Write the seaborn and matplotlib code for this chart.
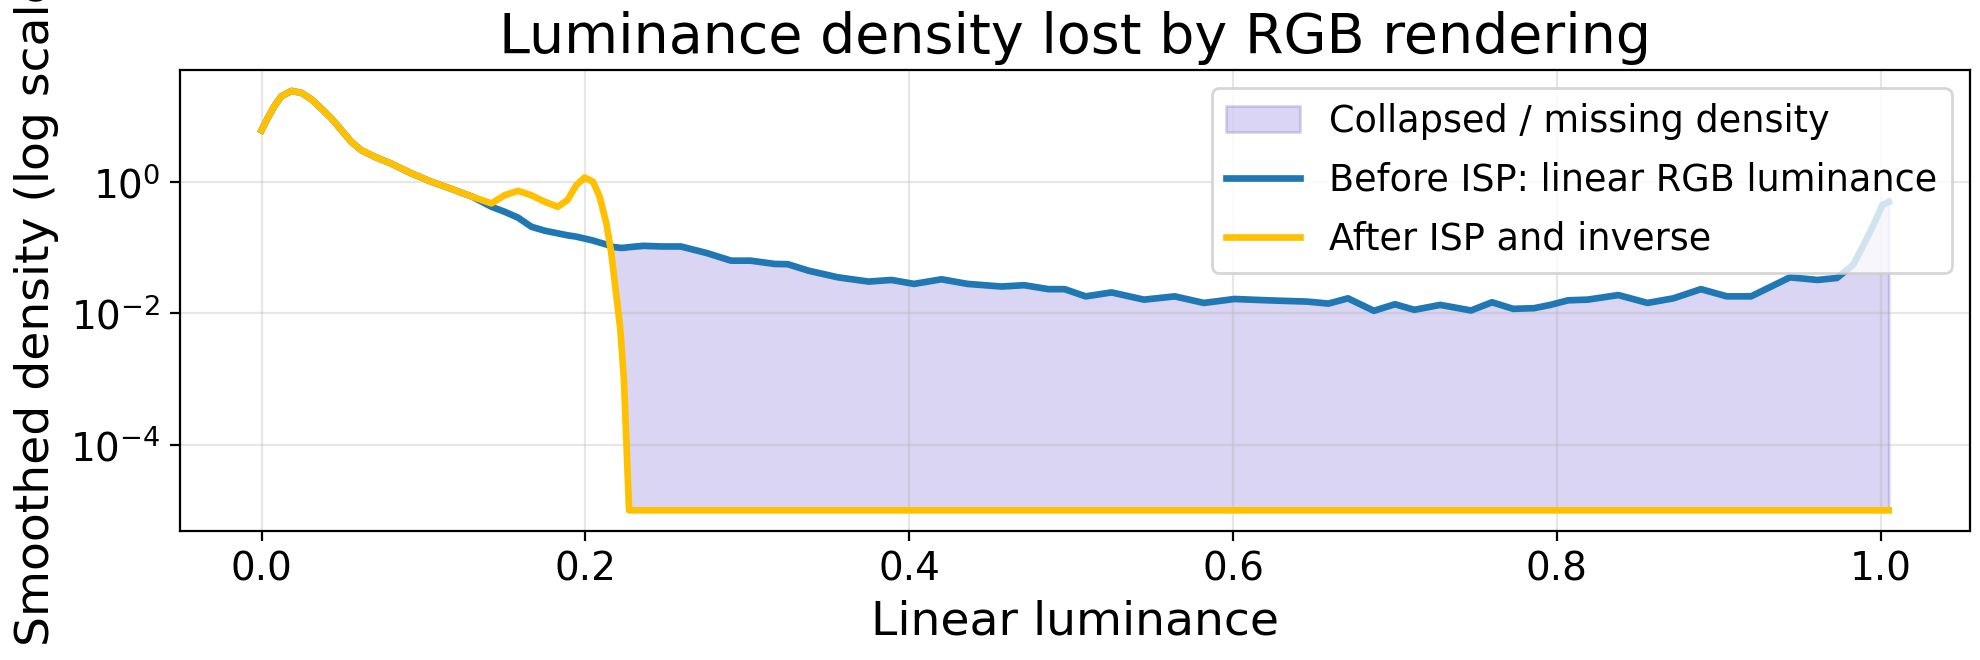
import matplotlib
matplotlib.use("Agg")
import matplotlib.pyplot as plt
import numpy as np
import seaborn as sns

# sample positions along linear luminance (shared by both curves)
luminance = [
    0.000, 0.0041, 0.0082, 0.0123, 0.0185, 0.0247, 0.0309, 0.037, 0.0432, 0.0494,
    0.0556, 0.0617, 0.070, 0.080, 0.092, 0.105, 0.117, 0.130, 0.142, 0.150,
    0.1584, 0.1667, 0.175, 0.183, 0.189, 0.1944, 0.1996, 0.2048, 0.2088, 0.213,
    0.216, 0.218, 0.2215, 0.2238, 0.227, 0.236, 0.247,
    0.259, 0.275, 0.290, 0.302, 0.317, 0.325, 0.338, 0.356, 0.375, 0.389,
    0.403, 0.420, 0.436, 0.457, 0.471, 0.486, 0.496, 0.509, 0.525, 0.545,
    0.564, 0.582, 0.601, 0.621, 0.646, 0.659, 0.671, 0.687, 0.700, 0.712,
    0.728, 0.747, 0.760, 0.773, 0.786, 0.796, 0.807, 0.819, 0.838, 0.856,
    0.872, 0.889, 0.905, 0.920, 0.944, 0.961, 0.973, 0.983, 0.990, 0.996,
    1.001, 1.005,
]

# log10 of the smoothed density
before_log = [
    0.79, 0.99, 1.17, 1.31, 1.39, 1.36, 1.26, 1.12, 0.97, 0.79,
    0.61, 0.486, 0.385, 0.284, 0.14, 0.005, -0.10, -0.22, -0.375, -0.45,
    -0.54, -0.68, -0.74, -0.78, -0.81, -0.83, -0.86, -0.89, -0.92, -0.95,
    -0.98, -0.99, -1.00, -1.00, -0.99, -0.97, -0.98,
    -0.98, -1.08, -1.196, -1.196, -1.246, -1.25, -1.35, -1.45, -1.515, -1.49,
    -1.55, -1.48, -1.55, -1.59, -1.57, -1.63, -1.63, -1.74, -1.68, -1.79,
    -1.74, -1.84, -1.78, -1.80, -1.82, -1.85, -1.77, -1.96, -1.86, -1.945,
    -1.87, -1.955, -1.83, -1.93, -1.92, -1.87, -1.80, -1.79, -1.72, -1.84,
    -1.77, -1.63, -1.74, -1.74, -1.45, -1.49, -1.46, -1.26, -0.93, -0.63,
    -0.35, -0.30,
]

after_log = [
    0.79, 0.99, 1.17, 1.31, 1.39, 1.36, 1.26, 1.12, 0.97, 0.79,
    0.61, 0.486, 0.385, 0.284, 0.14, 0.005, -0.10, -0.22, -0.324, -0.20,
    -0.132, -0.20, -0.30, -0.375, -0.27, -0.046, 0.071, 0.005, -0.22, -0.63,
    -1.08, -1.49, -2.22, -3.00, -5.0, -5.0, -5.0,
    -5.0, -5.0, -5.0, -5.0, -5.0, -5.0, -5.0, -5.0, -5.0, -5.0,
    -5.0, -5.0, -5.0, -5.0, -5.0, -5.0, -5.0, -5.0, -5.0, -5.0,
    -5.0, -5.0, -5.0, -5.0, -5.0, -5.0, -5.0, -5.0, -5.0, -5.0,
    -5.0, -5.0, -5.0, -5.0, -5.0, -5.0, -5.0, -5.0, -5.0, -5.0,
    -5.0, -5.0, -5.0, -5.0, -5.0, -5.0, -5.0, -5.0, -5.0, -5.0,
    -5.0, -5.0,
]

x = np.array(luminance)
before = 10.0 ** np.array(before_log)
after = 10.0 ** np.array(after_log)

plt.rcParams["font.size"] = 14
plt.rcParams["axes.labelsize"] = 17
plt.rcParams["axes.titlesize"] = 20

fig, ax = plt.subplots(figsize=(9.9, 3.3), dpi=200)

ax.fill_between(x, after, before, where=before > after, interpolate=True,
                color="slateblue", alpha=0.25, label="Collapsed / missing density")
sns.lineplot(x=x, y=before, ax=ax, color="#1f77b4", lw=2.4,
             label="Before ISP: linear RGB luminance")
sns.lineplot(x=x, y=after, ax=ax, color="#FFC000", lw=2.4,
             label="After ISP and inverse")

ax.set_yscale("log")
ax.grid(alpha=0.3)
ax.set_xlabel("Linear luminance")
ax.set_ylabel("Smoothed density (log scale)")
ax.set_title("Luminance density lost by RGB rendering")
ax.legend(loc="upper right", fontsize=13.2, labelspacing=0.6)

fig.subplots_adjust(left=0.091, right=0.995, top=0.894, bottom=0.195)
fig.savefig("out.png", dpi=200)
